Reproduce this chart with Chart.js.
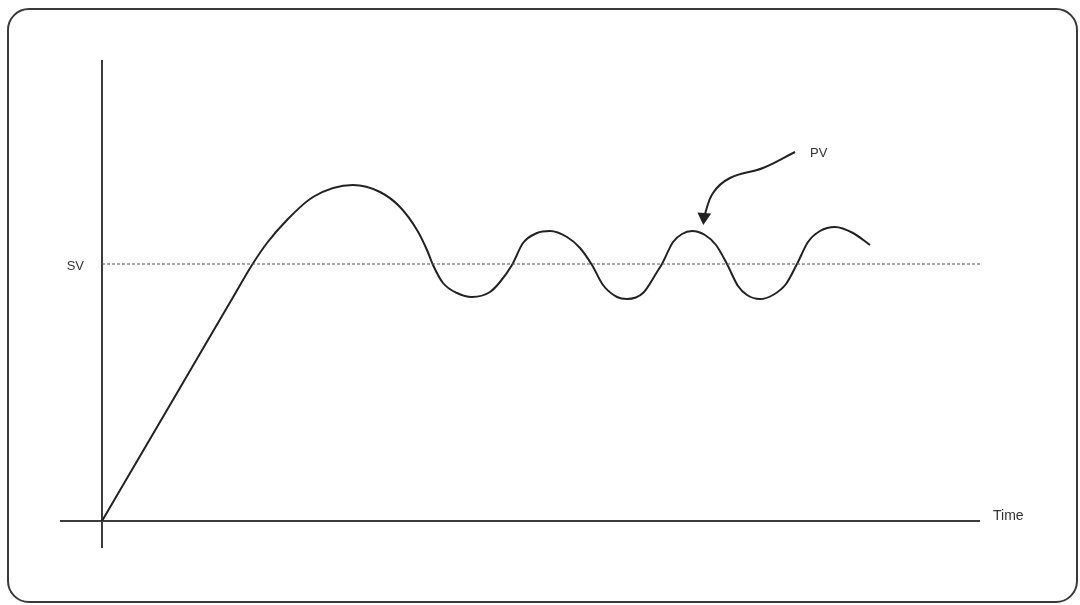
<!DOCTYPE html>
<html>
<head>
<meta charset="utf-8">
<script src="https://cdn.jsdelivr.net/npm/chart.js@4"></script>
<style>
  html, body { margin: 0; padding: 0; background: #fff; }
  #wrap { position: relative; width: 1080px; height: 605px; }
  #frame {
    position: absolute; left: 7px; top: 8px; right: 2px; bottom: 2px;
    border: 2px solid #3a3a3a; border-radius: 22px; pointer-events: none;
  }
  canvas { position: absolute; left: 0; top: 0; }
</style>
</head>
<body>
<div id="wrap">
  <canvas id="chart" width="1080" height="605"></canvas>
  <div id="frame"></div>
</div>
<script>
// PV応答カーブ（時間, 値）
const pvTime = [0, 75, 130, 150, 165, 185, 211, 251, 278, 298, 315, 325, 331, 341, 355, 370, 388, 398, 410, 421, 435, 448, 465, 478, 490, 501, 515, 525, 541, 555, 560, 571, 580, 590, 603, 614, 625, 636, 645, 658, 671, 684, 695, 706, 718, 733, 751, 768];
const pvValue = [0, 128, 222, 256, 278, 301, 324, 336, 329, 314, 291, 271, 256, 238, 228, 224, 229, 239, 256, 278, 288, 290, 284, 273, 256, 236, 224, 222, 228, 249, 257, 279, 287, 290, 286, 276, 257, 235, 226, 222, 226, 237, 257, 279, 290, 294, 288, 276];

// 設定値 SV
const svValue = 257;
const svTime = [0, 878];

// PV ラベルの矢印
const arrowTime = [693, 661, 628, 611, 602];
const arrowValue = [369, 353, 343, 328, 304];

// 軸範囲
const timeMin = -42, timeMax = 878;
const valueMin = -27, valueMax = 461;

const toPoints = (xs, ys) => xs.map((x, i) => ({ x, y: ys[i] }));

const axesPlugin = {
  id: 'axesAndLabels',
  beforeDatasetsDraw(chart) {
    const { ctx, scales: { x, y } } = chart;
    const x0 = x.getPixelForValue(0);
    const y0 = y.getPixelForValue(0);
    ctx.save();
    ctx.strokeStyle = '#3c3c3c';
    ctx.lineWidth = 2;
    ctx.beginPath();
    ctx.moveTo(x0, y.top);
    ctx.lineTo(x0, y.bottom);
    ctx.moveTo(x.left, y0);
    ctx.lineTo(x.right, y0);
    ctx.stroke();
    ctx.restore();
  },
  afterDraw(chart) {
    const { ctx, scales: { x, y } } = chart;
    ctx.save();
    ctx.fillStyle = '#333';
    ctx.font = '13px "Liberation Sans", Arial, sans-serif';
    ctx.textBaseline = 'middle';
    ctx.textAlign = 'right';
    ctx.fillText('SV', x.getPixelForValue(0) - 18, y.getPixelForValue(svValue) + 2);
    ctx.textAlign = 'left';
    ctx.font = '14px "Liberation Sans", Arial, sans-serif';
    ctx.fillText('Time', x.right + 13, y.getPixelForValue(0) - 5);
    ctx.font = '13px "Liberation Sans", Arial, sans-serif';
    ctx.fillText('PV', x.getPixelForValue(arrowTime[0]) + 15, y.getPixelForValue(arrowValue[0]) + 1);
    ctx.restore();
  },
};

new Chart(document.getElementById('chart'), {
  type: 'line',
  data: {
    datasets: [
      {
        label: 'SV',
        data: toPoints(svTime, [svValue, svValue]),
        borderColor: '#555',
        borderWidth: 1,
        borderDash: [3, 2],
        pointRadius: 0,
        tension: 0,
      },
      {
        label: 'PV',
        data: toPoints(pvTime, pvValue),
        borderColor: '#222',
        borderWidth: 2,
        pointRadius: 0,
        cubicInterpolationMode: 'monotone',
      },
      {
        label: 'arrow',
        data: toPoints(arrowTime, arrowValue),
        borderColor: '#222',
        backgroundColor: '#222',
        borderWidth: 2,
        tension: 0.4,
        pointRadius: arrowTime.map((_, i) => (i === arrowTime.length - 1 ? 6 : 0)),
        pointStyle: 'triangle',
        pointRotation: 185,
      },
    ],
  },
  options: {
    responsive: false,
    animation: false,
    layout: { padding: { left: 60, right: 100, top: 60, bottom: 57 } },
    scales: {
      x: { type: 'linear', min: timeMin, max: timeMax, display: false },
      y: { type: 'linear', min: valueMin, max: valueMax, display: false },
    },
    plugins: {
      legend: { display: false },
      tooltip: { enabled: false },
    },
  },
  plugins: [axesPlugin],
});
</script>
</body>
</html>
